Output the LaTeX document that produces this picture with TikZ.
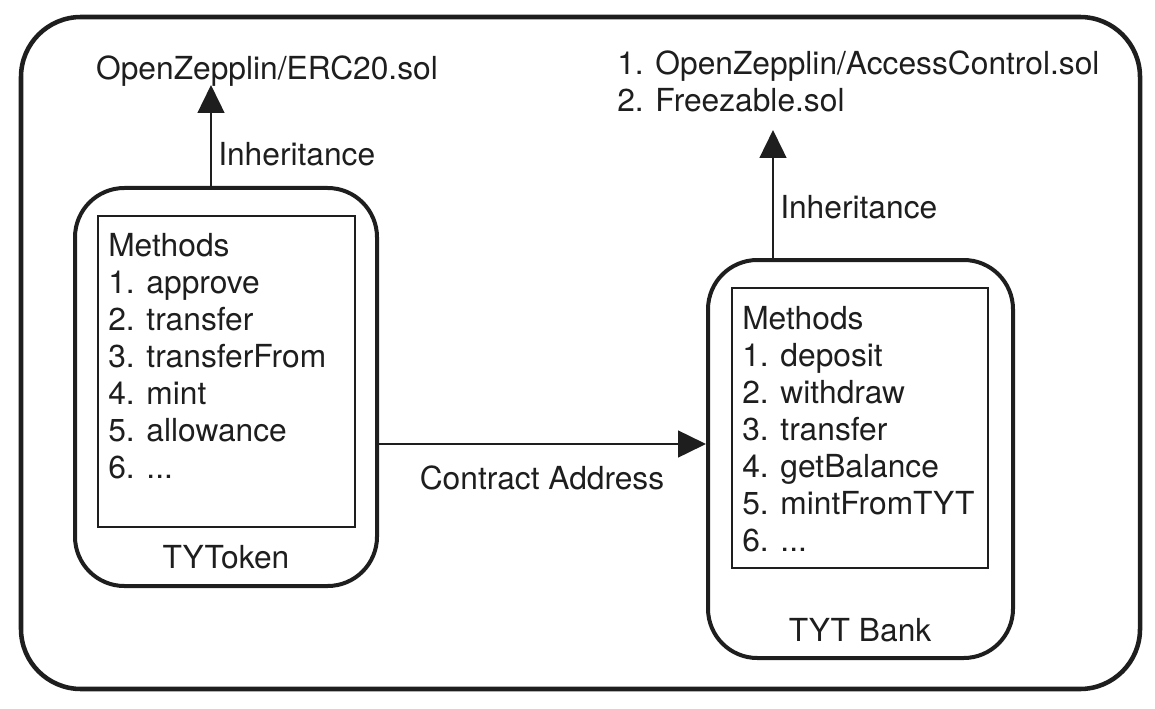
\documentclass[tikz,border=0pt]{standalone}
\usepackage{fontspec}
\setmainfont{TeX Gyre Heros}
\usetikzlibrary{arrows.meta}
\definecolor{ink}{RGB}{30,30,30}
\tikzset{
  txt/.style={inner sep=0pt, text=ink, font=\fontsize{23.8}{27.75}\selectfont},
  outerbox/.style={draw=ink, line width=3pt, rounded corners=37pt, inner sep=0pt},
  innerbox/.style={draw=ink, line width=2.2pt, inner sep=0pt},
  arr/.style={draw=ink, line width=2pt, -{Triangle[length=21pt,width=20pt]}},
}
\begin{document}
\begin{tikzpicture}[x=0.75pt,y=-0.75pt]
\useasboundingbox (0,0) rectangle (1155,709);
\draw[ink, line width=3.4pt, rounded corners=45pt] (21,17) rectangle (1140,689);

% TYToken
\node[outerbox, minimum width=226.5pt, minimum height=298.5pt] (tyt) at (226,387) {};
\node[innerbox, minimum width=192.75pt, minimum height=233.25pt] (tytin) at (226.5,371.5) {};
\node[txt, align=left, anchor=west] (tytm) at (108,356.5) {Methods\\1. approve\\2. transfer\\3. transferFrom\\4. mint\\5. allowance\\6. ...};
\node[txt, anchor=base] (tytl) at (226,568) {TYToken};

% TYT Bank
\node[outerbox, minimum width=228.75pt, minimum height=298.5pt] (bank) at (860.5,459) {};
\node[innerbox, minimum width=192pt, minimum height=210pt] (bankin) at (860,428) {};
\node[txt, align=left, anchor=west] (bankm) at (742,429) {Methods\\1. deposit\\2. withdraw\\3. transfer\\4. getBalance\\5. mintFromTYT\\6. ...};
\node[txt, anchor=base] (bankl) at (860,641) {TYT Bank};

% top texts
\node[txt, anchor=base] (erc) at (267,79.5) {OpenZepplin/ERC20.sol};
\node[txt, align=left, anchor=west] (acc) at (617,81.5) {1. OpenZepplin/AccessControl.sol\\2. Freezable.sol};

% arrows
\coordinate (ltip) at (211,85);
\coordinate (rtip) at (773,130);
\coordinate (mid) at (542,444);
\draw[arr] (ltip |- tyt.north) -- (ltip);
\draw[arr] (rtip |- bank.north) -- (rtip);
\draw[arr] (mid -| tyt.east) -- (mid -| bank.west);

\node[txt, anchor=base west] (inhl) at (218,166) {Inheritance};
\node[txt, anchor=base west] (inhr) at (780,218.5) {Inheritance};
\node[txt, anchor=base] (ca) at (542,489.5) {Contract Address};
\end{tikzpicture}
\end{document}
